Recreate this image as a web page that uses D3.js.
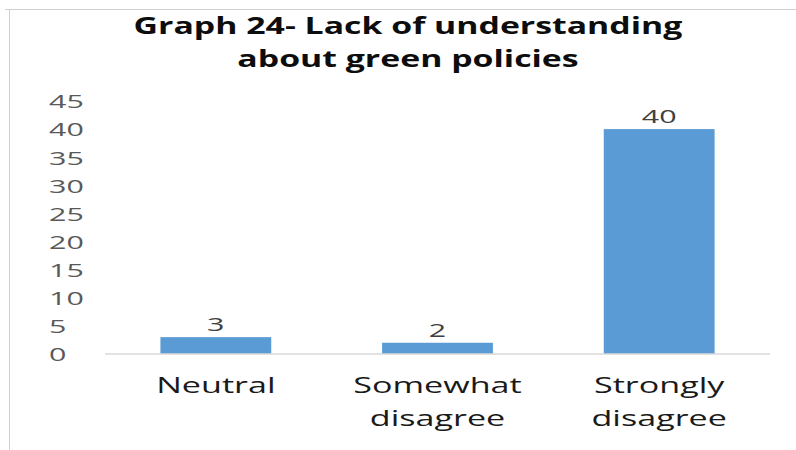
<!DOCTYPE html>
<html>
<head>
<meta charset="utf-8">
<script src="https://cdn.jsdelivr.net/npm/d3@7"></script>
<style>
  html, body { margin: 0; padding: 0; background: #fff; }
  svg { display: block; }
</style>
</head>
<body>
<svg id="chart" width="796" height="450"></svg>
<script>
// Responses per answer
const categories = [["Neutral"], ["Somewhat", "disagree"], ["Strongly", "disagree"]];
const values = [3, 2, 40];
const yTicks = [0, 5, 10, 15, 20, 25, 30, 35, 40, 45];
const titleLines = ["Graph 24- Lack of understanding", "about green policies"];

const svg = d3.select("#chart");
const font = "'Open Sans', 'Noto Sans', sans-serif";

// Widen a text element horizontally around its anchor
function widen(sel, stretch) {
  sel.each(function () {
    const natural = this.getComputedTextLength();
    d3.select(this)
      .attr("textLength", natural * stretch)
      .attr("lengthAdjust", "spacingAndGlyphs");
  });
}

// Chart area frame
svg.append("line").attr("x1", 5).attr("x2", 796).attr("y1", 9.5).attr("y2", 9.5)
  .attr("stroke", "#d0d0d0").attr("stroke-width", 1);
svg.append("line").attr("x1", 9.5).attr("x2", 9.5).attr("y1", 9).attr("y2", 450)
  .attr("stroke", "#d0d0d0").attr("stroke-width", 1);

const plot = { left: 105, right: 770, top: 101, bottom: 354 };

const x = d3.scaleBand()
  .domain(categories.map((d, i) => i))
  .range([plot.left, plot.right])
  .paddingInner(0.5)
  .paddingOuter(0.25);

const y = d3.scaleLinear().domain([0, 45]).range([plot.bottom, plot.top]);

// Title
svg.append("g").selectAll("text").data(titleLines).join("text")
  .attr("x", 408)
  .attr("y", (d, i) => 34 + i * 33)
  .attr("text-anchor", "middle")
  .attr("font-family", font)
  .attr("font-weight", "bold")
  .attr("font-size", 23)
  .attr("fill", "#0d0d0d")
  .text(d => d)
  .call(widen, 1.47);

// Y axis labels (no axis line)
const yAxis = d3.axisLeft(y).tickValues(yTicks).tickSize(0).tickPadding(0);
const yg = svg.append("g").attr("transform", "translate(49,0)").call(yAxis);
yg.select(".domain").remove();
yg.selectAll("text")
  .attr("text-anchor", "start")
  .attr("x", 0)
  .attr("dy", "0.36em")
  .attr("font-family", font)
  .attr("font-size", 19)
  .attr("fill", "#595959")
  .call(widen, 1.6);

// Bars
svg.append("g").selectAll("rect").data(values).join("rect")
  .attr("x", (d, i) => x(i))
  .attr("width", x.bandwidth())
  .attr("y", d => y(d))
  .attr("height", d => y(0) - y(d))
  .attr("fill", "#5b9bd5");

// Baseline
const xAxis = d3.axisBottom(x).tickSize(0).tickFormat("");
const xg = svg.append("g").attr("transform", `translate(0,${plot.bottom})`).call(xAxis);
xg.select(".domain").attr("stroke", "#d9d9d9").attr("stroke-width", 1.5)
  .attr("d", `M${plot.left},0H${plot.right}`);

// Value labels
svg.append("g").selectAll("text").data(values).join("text")
  .attr("x", (d, i) => x(i) + x.bandwidth() / 2)
  .attr("y", d => y(d) - 6)
  .attr("text-anchor", "middle")
  .attr("font-family", font)
  .attr("font-size", 19)
  .attr("fill", "#404040")
  .text(d => d)
  .call(widen, 1.6);

// Category labels
const cat = svg.append("g").selectAll("g").data(categories).join("g")
  .attr("transform", (d, i) => `translate(${x(i) + x.bandwidth() / 2},0)`);
cat.selectAll("text").data(d => d).join("text")
  .attr("x", 0)
  .attr("y", (d, j) => 393 + j * 33)
  .attr("text-anchor", "middle")
  .attr("font-family", font)
  .attr("font-size", 22)
  .attr("fill", "#1a1a1a")
  .text(d => d)
  .call(widen, 1.55);
</script>
</body>
</html>
